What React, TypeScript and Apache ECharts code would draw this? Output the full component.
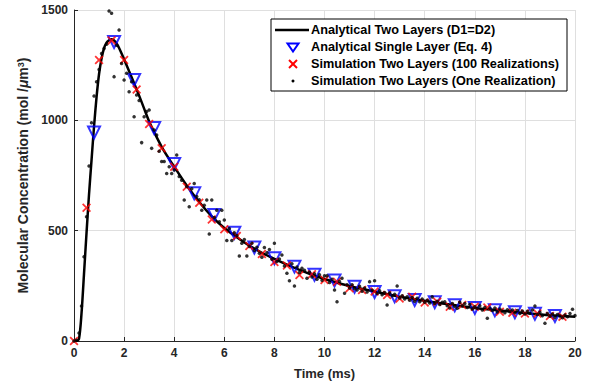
import React, { useEffect, useRef } from "react";
import * as echarts from "echarts";

// Analytical Two Layers (D1=D2) – curve samples [time ms, value]
const curveTimes = [
  0, 0.1, 0.2, 0.3, 0.4, 0.5, 0.6, 0.7, 0.8, 0.9,
  1.0, 1.1, 1.2, 1.3, 1.4, 1.5, 1.6, 1.7, 1.8, 1.9,
  2.0, 2.2, 2.4, 2.6, 2.8, 3.0, 3.25, 3.5, 3.75, 4.0,
  4.5, 5.0, 5.5, 6.0, 6.5, 7.0, 7.5, 8.0, 8.5, 9.0,
  9.5, 10, 11, 12, 13, 14, 15, 16, 17, 18, 19, 20,
];
const curveValues = [
  0, 0, 10, 125, 305, 490, 665, 820, 972, 1105,
  1210, 1280, 1327, 1352, 1363, 1367, 1362, 1348, 1328, 1303,
  1277, 1222, 1168, 1112, 1053, 995, 935, 880, 833, 790,
  705, 630, 565, 512, 470, 432, 400, 372, 346, 322,
  300, 281, 249, 224, 201, 182, 165, 150, 138, 127, 117, 110,
];

// Analytical Single Layer (Eq. 4): every 0.8 ms from 0.8 ms
const singleStart = 0.8;
const singleStep = 0.8;
const singleValues = [
  945, 1355, 1183, 965, 802, 669, 571, 491, 424, 375,
  337, 300, 274, 246, 222, 203, 186, 176, 162, 150,
  139, 130, 123, 113,
];

// Simulation Two Layers (100 Realizations): every 0.5 ms from 0
const simStep = 0.5;
const simValues = [
  0, 604, 1273, 1362, 1273, 1140, 983, 873, 790, 699,
  627, 551, 506, 476, 430, 394, 358, 342, 299, 302,
  276, 269, 239, 231, 224, 208, 193, 201, 174, 178,
  155, 163, 155, 152, 133, 128, 125, 125, 113, 110,
];

// Simulation Two Layers (One Realization): every 0.1 ms from 0
const oneStep = 0.1;
const oneValues = [
  0, 3, 36, 159, 382, 563, 793, 989, 1110, 1175,
  1230, 1303, 1326, 1345, 1495, 1485, 1198, 1340, 1409, 1258,
  1183, 1213, 1130, 1175, 1016, 1115, 1090, 899, 1016, 1040,
  1047, 873, 956, 933, 860, 813, 813, 759, 790, 759,
  775, 843, 745, 729, 639, 700, 608, 690, 714, 655,
  640, 593, 615, 639, 485, 639, 560, 593, 540, 593,
  548, 455, 510, 455, 490, 478, 385, 443, 460, 385,
  428, 443, 410, 425, 398, 380, 424, 400, 415, 370,
  443, 360, 372, 390, 340, 307, 273, 350, 249, 335,
  310, 330, 320, 284, 312, 290, 305, 280, 300, 275,
  296, 296, 265, 280, 231, 178, 270, 284, 216, 255,
  240, 255, 238, 231, 248, 225, 240, 222, 269, 230,
  273, 215, 228, 210, 220, 163, 218, 205, 212, 249,
  195, 205, 190, 200, 185, 197, 180, 194, 178, 190,
  176, 185, 172, 200, 170, 180, 165, 175, 178, 160,
  150, 170, 158, 148, 175, 160, 170, 152, 165, 145,
  155, 148, 160, 140, 152, 103, 148, 138, 150, 132,
  145, 135, 128, 142, 133, 140, 128, 138, 125, 136,
  122, 135, 126, 140, 159, 120, 130, 115, 80, 125,
  112, 122, 108, 120, 113, 105, 118, 110, 125, 144,
  115,
];

const legendNames = [
  "Analytical Two Layers (D1=D2)",
  "Analytical Single Layer (Eq. 4)",
  "Simulation Two Layers (100 Realizations)",
  "Simulation Two Layers (One Realization)",
];

const xTicks = { min: 0, max: 20, interval: 2 };
const yTicks = { min: 0, max: 1500, interval: 500 };

const FONT = "'Liberation Sans', Arial, Helvetica, sans-serif";
const AX = "#262626";
const CROSS =
  "path://M0,1.4 L1.4,0 L5,3.6 L8.6,0 L10,1.4 L6.4,5 L10,8.6 L8.6,10 L5,6.4 L1.4,10 L0,8.6 L3.6,5 Z";

const r1 = (v: number) => Math.round(v * 100) / 100;

export default function App() {
  const ref = useRef<HTMLDivElement>(null);
  useEffect(() => {
    const chart = echarts.init(ref.current!, null, { renderer: "svg" });
    const curveData = curveTimes.map((t, i) => [t, curveValues[i]]);
    const singleData = singleValues.map((v, i) => [r1(singleStart + i * singleStep), v]);
    const simData = simValues.map((v, i) => [r1(i * simStep), v]);
    const oneData = oneValues.map((v, i) => [r1(i * oneStep), v]);

    const labelStyle = {
      color: AX,
      fontWeight: "bold" as const,
      fontSize: 12,
      fontFamily: FONT,
      margin: 6,
      formatter: (v: number) => String(v),
    };
    const axisCommon = {
      type: "value" as const,
      axisLine: { show: true, lineStyle: { color: AX, width: 1 } },
      axisTick: { show: true, inside: true, length: 4, lineStyle: { color: AX } },
      splitLine: { show: true, lineStyle: { color: "#dfdfdf", width: 1 } },
      axisLabel: labelStyle,
      nameLocation: "middle" as const,
    };

    const lx = 271;
    const ly = 19;
    const rowY = [30, 47, 64, 81];
    const iconX = 293;
    const textX = 311;

    const legendTexts = legendNames.map((n, i) => ({
      type: "text",
      x: textX,
      y: rowY[i],
      z: 102,
      style: {
        text: n,
        fill: "#000000",
        fontSize: 12.7,
        fontWeight: "bold",
        fontFamily: FONT,
        verticalAlign: "middle",
        align: "left",
      },
    }));

    chart.setOption({
      animation: false,
      backgroundColor: "#ffffff",
      grid: { left: 74, right: 18, top: 10, bottom: 44 },
      xAxis: {
        ...axisCommon,
        ...xTicks,
        name: "Time (ms)",
        nameGap: 26,
        nameTextStyle: { color: AX, fontWeight: "bold", fontSize: 13, fontFamily: FONT },
      },
      yAxis: {
        ...axisCommon,
        ...yTicks,
        name: "Molecular Concentration (mol /{mu|μ}m{sup|3})",
        nameGap: 27,
        nameTextStyle: {
          color: AX,
          fontWeight: "bold",
          fontSize: 14,
          fontFamily: FONT,
          rich: {
            mu: { fontStyle: "italic", fontWeight: "bold", fontSize: 14, fontFamily: FONT, color: AX },
            sup: { fontWeight: "bold", fontSize: 9, fontFamily: FONT, color: AX, verticalAlign: "top" },
          },
        },
      },
      series: [
        {
          name: legendNames[0],
          type: "line",
          data: curveData,
          showSymbol: false,
          symbol: "none",
          smooth: 0.3,
          lineStyle: { color: "#000000", width: 2.5 },
          z: 2,
        },
        {
          name: legendNames[1],
          type: "scatter",
          data: singleData,
          symbol: "triangle",
          symbolRotate: 180,
          symbolSize: 12,
          itemStyle: { color: "rgba(0,0,0,0)", borderColor: "#0000ff", borderWidth: 2 },
          z: 3,
        },
        {
          name: legendNames[2],
          type: "scatter",
          data: simData,
          symbol: CROSS,
          symbolSize: 9,
          itemStyle: { color: "#ff0000" },
          z: 4,
        },
        {
          name: legendNames[3],
          type: "scatter",
          data: oneData,
          symbol: "circle",
          symbolSize: 3.5,
          itemStyle: { color: "#000000" },
          z: 5,
        },
      ],
      graphic: [
        {
          type: "rect",
          z: 100,
          shape: { x: lx, y: ly, width: 296, height: 72 },
          style: { fill: "#ffffff", stroke: "#000000", lineWidth: 1 },
        },
        {
          type: "line",
          z: 101,
          shape: { x1: 275, y1: rowY[0], x2: 309, y2: rowY[0] },
          style: { stroke: "#000000", lineWidth: 2.5 },
        },
        {
          type: "polygon",
          z: 101,
          shape: {
            points: [
              [iconX - 5.5, rowY[1] - 3.5],
              [iconX + 5.5, rowY[1] - 3.5],
              [iconX, rowY[1] + 4.5],
            ],
          },
          style: { fill: "none", stroke: "#0000ff", lineWidth: 2 },
        },
        {
          type: "line",
          z: 101,
          shape: { x1: iconX - 4, y1: rowY[2] - 4, x2: iconX + 4, y2: rowY[2] + 4 },
          style: { stroke: "#ff0000", lineWidth: 2 },
        },
        {
          type: "line",
          z: 101,
          shape: { x1: iconX + 4, y1: rowY[2] - 4, x2: iconX - 4, y2: rowY[2] + 4 },
          style: { stroke: "#ff0000", lineWidth: 2 },
        },
        {
          type: "circle",
          z: 101,
          shape: { cx: iconX, cy: rowY[3], r: 1.5 },
          style: { fill: "#000000" },
        },
        ...legendTexts,
      ],
    });
    return () => chart.dispose();
  }, []);
  return (
    <div
      ref={ref}
      style={{ position: "absolute", left: 0, top: 0, width: 593, height: 385, background: "#fff" }}
    />
  );
}
